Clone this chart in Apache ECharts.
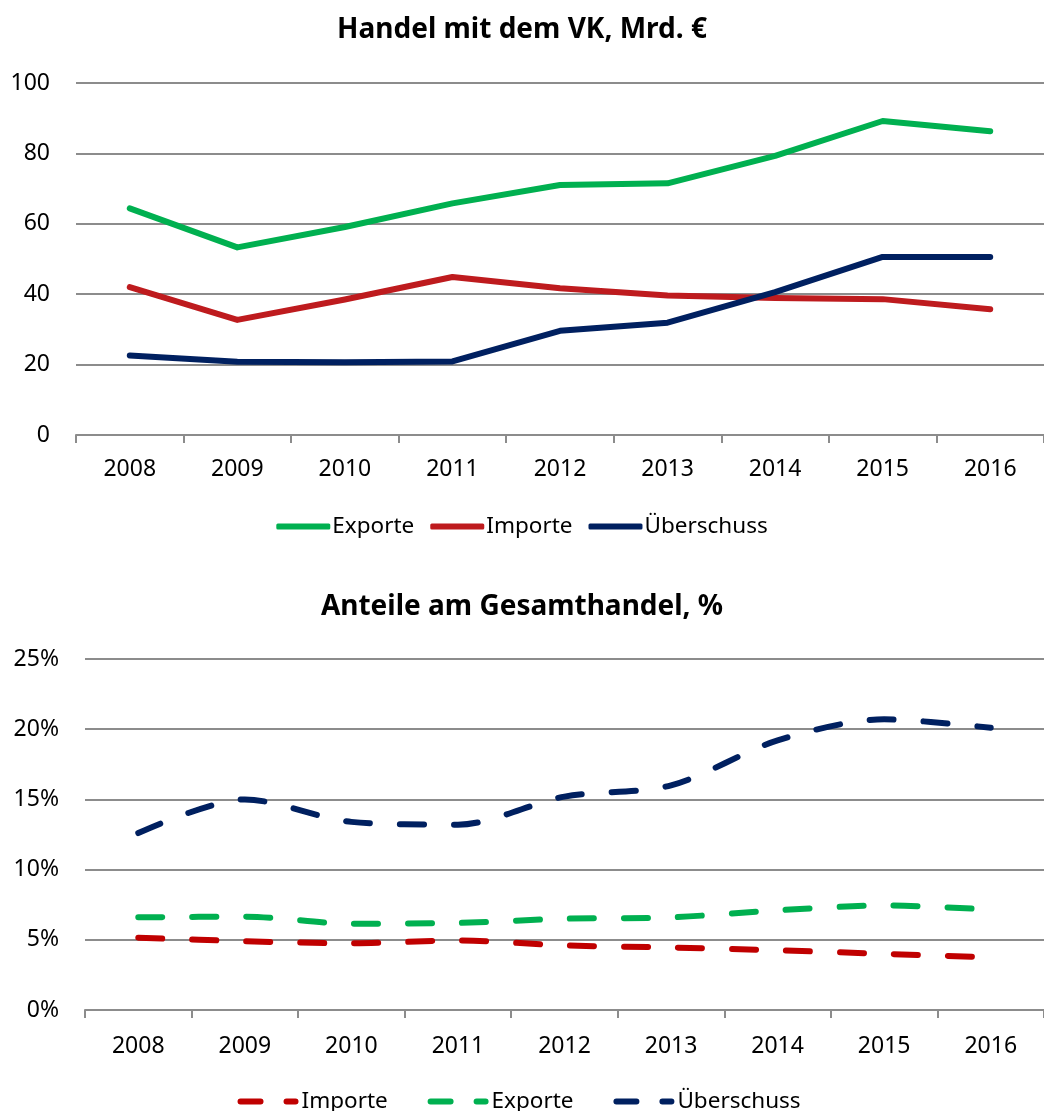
<!DOCTYPE html>
<html>
<head>
<meta charset="utf-8">
<script src="https://cdn.jsdelivr.net/npm/echarts@6/dist/echarts.min.js"></script>
<style>
  html, body { margin: 0; padding: 0; background: #fff; }
  #main { width: 1044px; height: 1111px; }
</style>
</head>
<body>
<div id="main"></div>
<script>
// Kategorien (Jahre)
const years = ['2008', '2009', '2010', '2011', '2012', '2013', '2014', '2015', '2016'];

// oberes Diagramm: Handel mit dem VK, Mrd. €
const exporteMrd = [64.4, 53.3, 59.1, 65.8, 71.0, 71.5, 79.3, 89.2, 86.3];
const importeMrd = [42.0, 32.7, 38.5, 44.9, 41.7, 39.6, 38.9, 38.6, 35.7];
const ueberschussMrd = [22.6, 20.8, 20.7, 20.9, 29.6, 31.9, 40.6, 50.6, 50.6];
const ticksMrd = [0, 20, 40, 60, 80, 100];

// unteres Diagramm: Anteile am Gesamthandel, %
const importeAnteil = [5.15, 4.9, 4.75, 4.95, 4.6, 4.45, 4.25, 4.0, 3.75];
const exporteAnteil = [6.6, 6.65, 6.15, 6.2, 6.5, 6.6, 7.1, 7.45, 7.15];
const ueberschussAnteil = [12.6, 15.0, 13.4, 13.2, 15.2, 16.0, 19.2, 20.7, 20.1];
const ticksAnteil = [0, 5, 10, 15, 20, 25];

const FONT = 'Noto Sans';
const GREEN = '#00b050';
const RED_TOP = '#be1b1e';
const RED_BOT = '#c00000';
const NAVY = '#002060';
const GRIDC = '#8c8c8c';

const chart = echarts.init(document.getElementById('main'), null, { renderer: 'canvas' });

// gestrichelte Legenden-Icons
const dashIcon = 'path://M3,0 H23 A3,3 0 0 1 23,6 H3 A3,3 0 0 1 3,0 Z M49,0 H58 A3,3 0 0 1 58,6 H49 A3,3 0 0 1 49,0 Z';

function xAxisCfg(gridIndex, margin) {
  return {
    type: 'category',
    gridIndex: gridIndex,
    data: years,
    boundaryGap: true,
    axisLine: { show: true, lineStyle: { color: GRIDC, width: 2 } },
    axisTick: { show: true, length: 8, lineStyle: { color: GRIDC, width: 2 } },
    axisLabel: { color: '#000', fontFamily: FONT, fontSize: 23, margin: margin }
  };
}

function yAxisCfg(gridIndex, ticks, fmt) {
  return {
    type: 'value',
    gridIndex: gridIndex,
    min: ticks[0],
    max: ticks[ticks.length - 1],
    interval: ticks[1] - ticks[0],
    axisLine: { show: false },
    axisTick: { show: false },
    splitLine: { lineStyle: { color: GRIDC, width: 2 } },
    axisLabel: { color: '#000', fontFamily: FONT, fontSize: 23, margin: 26, formatter: fmt }
  };
}

function solid(name, data, color) {
  return {
    name: name, type: 'line', xAxisIndex: 0, yAxisIndex: 0, data: data,
    showSymbol: false, symbol: 'none', color: color,
    lineStyle: { color: color, width: 6, cap: 'round', join: 'round' }
  };
}

function dashed(name, data, color) {
  return {
    name: name, type: 'line', xAxisIndex: 1, yAxisIndex: 1, data: data,
    showSymbol: false, symbol: 'none', smooth: 0.3, color: color,
    lineStyle: { color: color, width: 6, type: [24, 30], cap: 'round', join: 'round' }
  };
}

const option = {
  animation: false,
  backgroundColor: '#fff',
  title: [
    { text: 'Handel mit dem VK, Mrd. €', left: 'center', top: 11,
      textStyle: { fontFamily: FONT, fontSize: 28, fontWeight: 'bold', color: '#000' } },
    { text: 'Anteile am Gesamthandel, %', left: 'center', top: 588,
      textStyle: { fontFamily: FONT, fontSize: 28, fontWeight: 'bold', color: '#000' } }
  ],
  legend: [
    {
      data: ['Exporte', 'Importe', 'Überschuss'].map(function (n, i) {
        return { name: n, itemStyle: { color: [GREEN, RED_TOP, NAVY][i] } };
      }),
      left: 'center', top: 510,
      icon: 'roundRect', itemWidth: 54, itemHeight: 6, itemGap: 16,
      textStyle: { fontFamily: FONT, fontSize: 22.5, color: '#000', padding: [0, 0, 0, -3] }
    },
    {
      data: ['Importe ', 'Exporte ', 'Überschuss '].map(function (n, i) {
        return { name: n, itemStyle: { color: [RED_BOT, GREEN, NAVY][i] } };
      }),
      left: 'center', top: 1085,
      icon: dashIcon, itemWidth: 61, itemHeight: 6, itemGap: 34,
      textStyle: { fontFamily: FONT, fontSize: 22.5, color: '#000', padding: [0, 0, 0, -2] }
    }
  ],
  grid: [
    { left: 76, right: -8, top: 83, height: 352 },
    { left: 85, right: -8, top: 659, height: 351 }
  ],
  xAxis: [xAxisCfg(0, 23), xAxisCfg(1, 25)],
  yAxis: [
    yAxisCfg(0, ticksMrd, '{value}'),
    yAxisCfg(1, ticksAnteil, '{value}%')
  ],
  series: [
    solid('Exporte', exporteMrd, GREEN),
    solid('Importe', importeMrd, RED_TOP),
    solid('Überschuss', ueberschussMrd, NAVY),
    dashed('Importe ', importeAnteil, RED_BOT),
    dashed('Exporte ', exporteAnteil, GREEN),
    dashed('Überschuss ', ueberschussAnteil, NAVY)
  ]
};

chart.setOption(option);
</script>
</body>
</html>
